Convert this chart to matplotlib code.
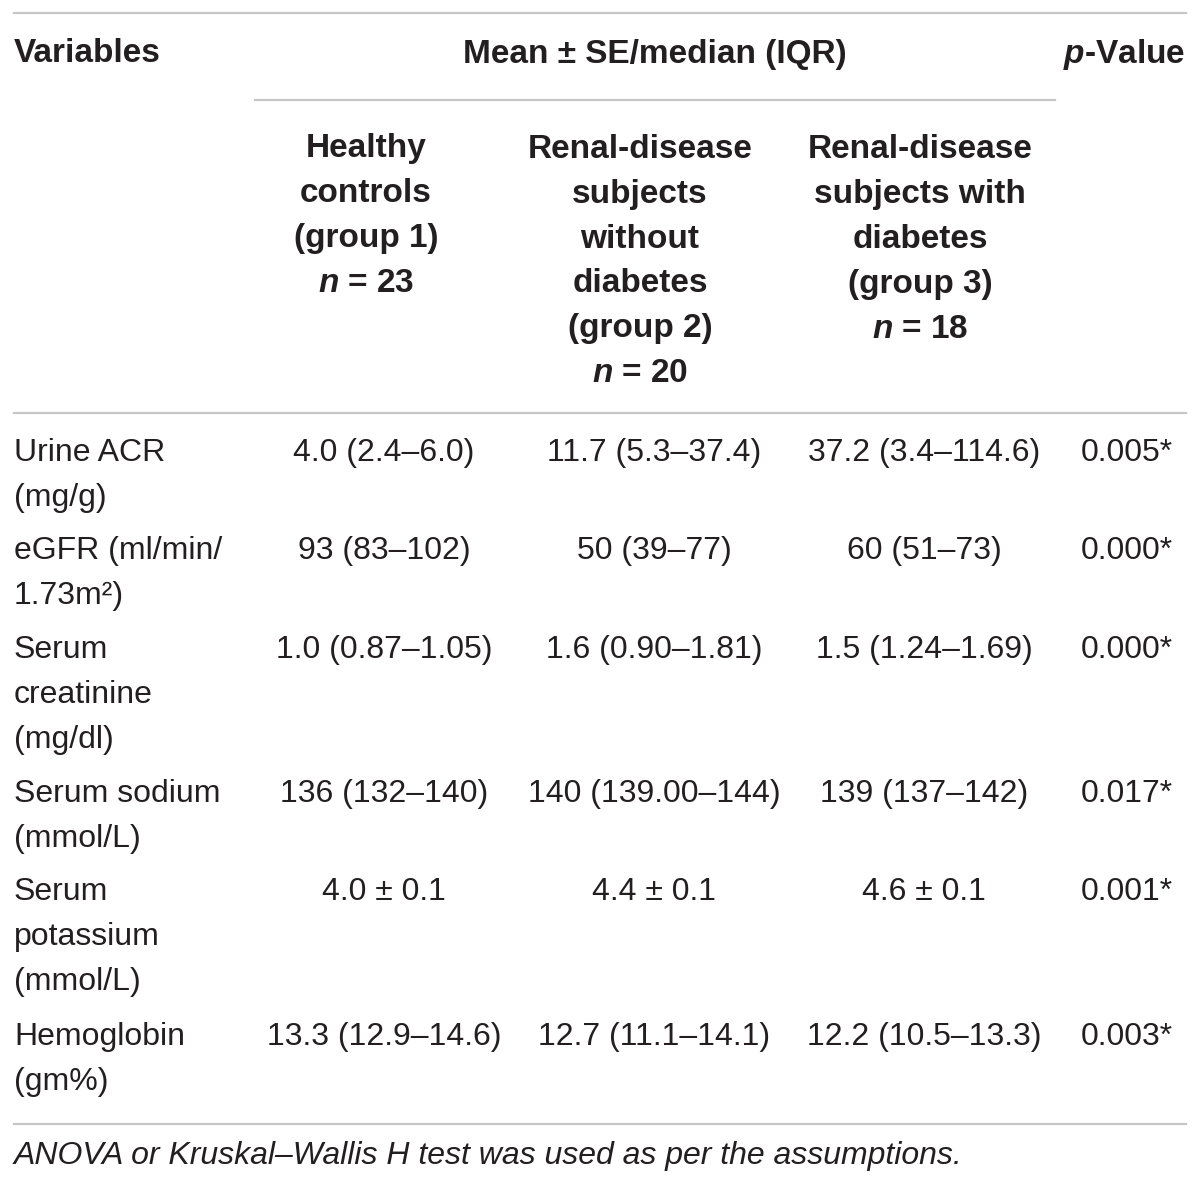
import matplotlib.pyplot as plt

plt.rcParams['font.family'] = ['Liberation Sans', 'DejaVu Sans']
plt.rcParams['mathtext.fontset'] = 'custom'
plt.rcParams['mathtext.it'] = 'Liberation Sans:italic:bold'
plt.rcParams['mathtext.rm'] = 'Liberation Sans:bold'

# table content
variables = [
    ["Urine ACR", "(mg/g)"],
    ["eGFR (ml/min/", "1.73m\u00b2)"],
    ["Serum", "creatinine", "(mg/dl)"],
    ["Serum sodium", "(mmol/L)"],
    ["Serum", "potassium", "(mmol/L)"],
    ["Hemoglobin", "(gm%)"],
]
group1 = ["4.0 (2.4\u20136.0)", "93 (83\u2013102)", "1.0 (0.87\u20131.05)",
          "136 (132\u2013140)", "4.0 \u00b1 0.1", "13.3 (12.9\u201314.6)"]
group2 = ["11.7 (5.3\u201337.4)", "50 (39\u201377)", "1.6 (0.90\u20131.81)",
          "140 (139.00\u2013144)", "4.4 \u00b1 0.1", "12.7 (11.1\u201314.1)"]
group3 = ["37.2 (3.4\u2013114.6)", "60 (51\u201373)", "1.5 (1.24\u20131.69)",
          "139 (137\u2013142)", "4.6 \u00b1 0.1", "12.2 (10.5\u201313.3)"]
p_values = ["0.005*", "0.000*", "0.000*", "0.017*", "0.001*", "0.003*"]

group_headers = [
    ["Healthy", "controls", "(group 1)", "$n$ = 23"],
    ["Renal-disease", "subjects", "without", "diabetes", "(group 2)", "$n$ = 20"],
    ["Renal-disease", "subjects with", "diabetes", "(group 3)", "$n$ = 18"],
]
footnote = "ANOVA or Kruskal\u2013Wallis H test was used as per the assumptions."

TXT = '#231f20'
RULE = '#c6c6c6'
FS = 23
FS_B = 24
LINE_H = 45

fig = plt.figure(figsize=(12, 11.85), dpi=100)
ax = fig.add_axes([0, 0, 1, 1])
ax.set_xlim(0, 1200)
ax.set_ylim(1185, 0)
ax.axis('off')

# rules
ax.plot([14, 1186], [13, 13], color=RULE, lw=1.6)
ax.plot([255, 1055], [100, 100], color=RULE, lw=1.6)
ax.plot([14, 1186], [413, 413], color=RULE, lw=1.6)
ax.plot([14, 1186], [1124, 1124], color=RULE, lw=1.6)

# top header
ax.text(14, 54, "Variables", ha='left', va='center', fontsize=FS_B, fontweight='bold', color=TXT)
ax.text(655, 54, "Mean \u00b1 SE/median (IQR)", ha='center', va='center', fontsize=FS_B,
        fontweight='bold', color=TXT)
ax.text(1124, 54, "$p$-Value", ha='center', va='center', fontsize=FS_B, fontweight='bold', color=TXT)

col_x = [366, 640, 920]
for cx, lines in zip(col_x, group_headers):
    for i, s in enumerate(lines):
        ax.text(cx, 149 + i * LINE_H, s, ha='center', va='center', fontsize=FS_B,
                fontweight='bold', color=TXT)

# body
row_y = [453, 551, 650, 794, 892, 1037]
val_x = [384, 654, 924, 1127]
for r, y in enumerate(row_y):
    for i, s in enumerate(variables[r]):
        ax.text(14, y + i * LINE_H, s, ha='left', va='center', fontsize=FS, color=TXT)
    for cx, col in zip(val_x, [group1, group2, group3, p_values]):
        ax.text(cx, y, col[r], ha='center', va='center', fontsize=FS, color=TXT)

ax.text(14, 1156, footnote, ha='left', va='center', fontsize=FS, style='italic', color=TXT)

fig.savefig('out.png', dpi=100)
